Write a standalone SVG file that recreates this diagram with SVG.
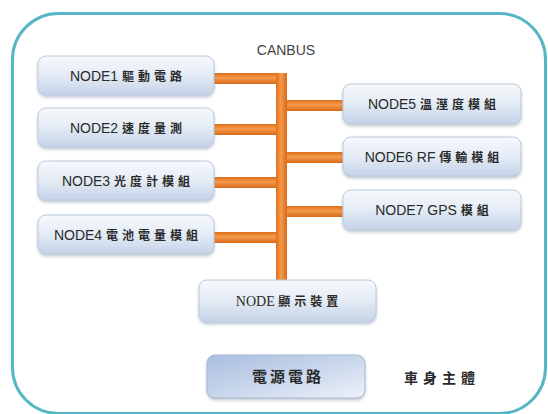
<svg xmlns="http://www.w3.org/2000/svg" width="548" height="414" viewBox="0 0 548 414">
<defs>
<linearGradient id="boxg" x1="0" y1="0" x2="0" y2="1">
<stop offset="0" stop-color="#f7f9fc"/>
<stop offset="0.45" stop-color="#e6edf6"/>
<stop offset="1" stop-color="#c5d3e8"/>
</linearGradient>
<linearGradient id="powg" x1="0" y1="0" x2="1" y2="1">
<stop offset="0" stop-color="#a9bedf"/>
<stop offset="0.6" stop-color="#cfdbee"/>
<stop offset="1" stop-color="#eef2f9"/>
</linearGradient>
<linearGradient id="hbar" x1="0" y1="0" x2="0" y2="1">
<stop offset="0" stop-color="#e0701a"/>
<stop offset="0.45" stop-color="#f59a4c"/>
<stop offset="1" stop-color="#d9691a"/>
</linearGradient>
<linearGradient id="vbar" x1="0" y1="0" x2="1" y2="0">
<stop offset="0" stop-color="#e0701a"/>
<stop offset="0.45" stop-color="#f59a4c"/>
<stop offset="1" stop-color="#d9691a"/>
</linearGradient>
<filter id="sh" x="-10%" y="-20%" width="120%" height="150%">
<feDropShadow dx="0" dy="2" stdDeviation="1.5" flood-color="#7a8aa0" flood-opacity="0.45"/>
</filter>
</defs>
<style>
.box{fill:url(#boxg);stroke:#bccadd;stroke-width:1;filter:url(#sh)}
.pow{fill:url(#powg);stroke:#a9b9d2;stroke-width:1;filter:url(#sh)}
.t{font-family:"Liberation Sans","Noto Sans CJK TC",sans-serif;font-size:14px;fill:#2a2a2a;text-anchor:middle}
.s{font-family:"Liberation Serif","Noto Sans CJK TC",serif;font-size:14px;fill:#2a2a2a;text-anchor:middle}
.c{font-family:"Noto Sans CJK TC",sans-serif;font-size:12px;letter-spacing:4px;font-weight:bold}
.h{fill:url(#hbar)}
.v{fill:url(#vbar)}
</style>
<rect width="548" height="414" fill="#ffffff"/>
<rect id="frame" x="12.5" y="13.5" width="533" height="400" rx="46" fill="none" stroke="#57b6c6" stroke-width="3"/>
<text class="t" x="286" y="55" style="font-size:14px;fill:#444">CANBUS</text>
<g id="connectors">
<rect class="h" x="214" y="73" width="73" height="11"/>
<rect class="h" x="214" y="124" width="66" height="11"/>
<rect class="h" x="214" y="177" width="66" height="11"/>
<rect class="h" x="214" y="232" width="66" height="11"/>
<rect class="h" x="284" y="100" width="60" height="11"/>
<rect class="h" x="284" y="152" width="60" height="11"/>
<rect class="h" x="284" y="206" width="60" height="11"/>
<rect class="v" x="276" y="73" width="11" height="208"/>
</g>
<g id="node1"><rect class="box" x="38" y="56" width="176" height="39" rx="8"/><text class="t" x="128" y="81">NODE1 <tspan class="c">驅動電路</tspan></text></g>
<g id="node2"><rect class="box" x="38" y="108" width="176" height="39" rx="8"/><text class="t" x="128" y="133">NODE2 <tspan class="c">速度量測</tspan></text></g>
<g id="node3"><rect class="box" x="38" y="161" width="176" height="39" rx="8"/><text class="t" x="128" y="186">NODE3 <tspan class="c">光度計模組</tspan></text></g>
<g id="node4"><rect class="box" x="38" y="215" width="176" height="39" rx="8"/><text class="t" x="128" y="240">NODE4 <tspan class="c">電池電量模組</tspan></text></g>
<g id="node5"><rect class="box" x="343" y="84" width="178" height="40" rx="8"/><text class="t" x="434" y="109">NODE5 <tspan class="c">溫溼度模組</tspan></text></g>
<g id="node6"><rect class="box" x="343" y="137" width="178" height="39" rx="8"/><text class="t" x="434" y="162">NODE6 RF <tspan class="c">傳輸模組</tspan></text></g>
<g id="node7"><rect class="box" x="343" y="190" width="178" height="40" rx="8"/><text class="t" x="434" y="215">NODE7 GPS <tspan class="c">模組</tspan></text></g>
<g id="node-display"><rect class="box" x="199" y="280" width="177" height="42" rx="8"/><text class="s" x="289" y="306">NODE <tspan class="c">顯示裝置</tspan></text></g>
<g id="power"><rect class="pow" x="207" y="355" width="158" height="43" rx="8"/><text class="t" x="288" y="382" style="font-family:'Noto Sans CJK TC',sans-serif;font-size:15px;letter-spacing:3px;font-weight:bold">電源電路</text></g>
<g id="body-label"><text class="t" x="442" y="383" style="font-family:'Noto Sans CJK TC',sans-serif;font-size:14px;letter-spacing:5px;font-weight:bold">車身主體</text></g>
</svg>
